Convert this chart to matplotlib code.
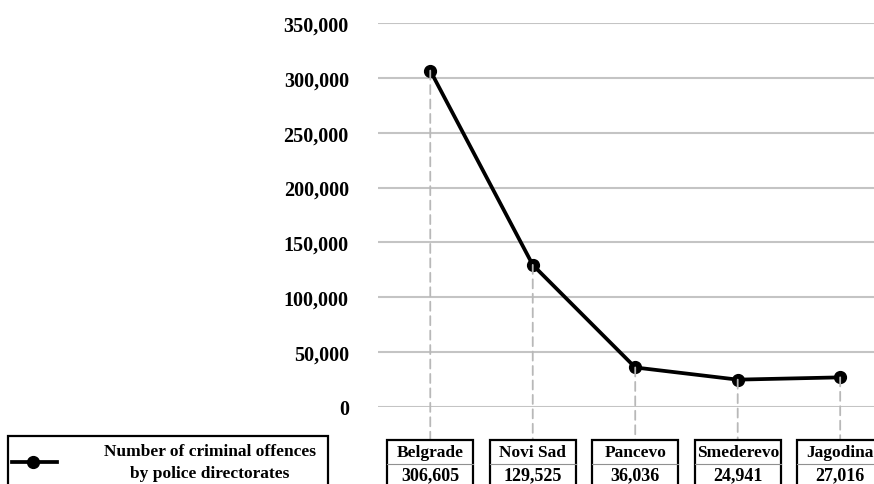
import matplotlib.pyplot as plt
import matplotlib.transforms as mtransforms
from matplotlib.patches import Rectangle, ConnectionPatch
from matplotlib.lines import Line2D

plt.rcParams['font.family'] = ['Liberation Serif', 'DejaVu Serif']
plt.rcParams['font.weight'] = 'bold'

# data
cities = ['Belgrade', 'Novi Sad', 'Pancevo', 'Smederevo', 'Jagodina']
offences = [306605, 129525, 36036, 24941, 27016]
yticks = [0, 50000, 100000, 150000, 200000, 250000, 300000, 350000]
legend_label = 'Number of criminal offences\nby police directorates'

W, H = 874, 485
fig = plt.figure(figsize=(W / 100, H / 100), dpi=100)
ax = fig.add_axes([378 / W, 1 - 408 / H, 1 - 378 / W, (408 - 24) / H])

x = list(range(len(cities)))
ax.plot(x, offences, color='black', lw=2.7, marker='o', ms=8.5, zorder=5, clip_on=False)

ax.set_ylim(0, 350000)
ax.set_xlim(-0.51, 4.33)
ax.set_yticks(yticks)
ax.set_yticklabels([f'{t:,}' for t in yticks], fontsize=14.5, fontweight='bold')
ax.tick_params(axis='y', length=0, pad=21)
ax.set_xticks([])
ax.grid(axis='y', color='#c4c4c4', lw=1.5)
ax.set_axisbelow(True)
for s in ax.spines.values():
    s.set_visible(False)

# boxes under each city (x in data, y in figure fraction)
blend = mtransforms.blended_transform_factory(ax.transData, fig.transFigure)
box_top = 1 - 441 / H
box_mid = 1 - 465 / H
bw = 0.84
for i, (c, v) in enumerate(zip(cities, offences)):
    con = ConnectionPatch(xyA=(i, v), coordsA=ax.transData,
                          xyB=(i, box_top), coordsB=blend,
                          color='#b8b8b8', lw=1.3, ls=(0, (5, 3)), zorder=1)
    fig.add_artist(con)
    r = Rectangle((i - bw / 2, box_top - 0.2), bw, 0.2, transform=blend,
                  fill=False, ec='black', lw=1.6, clip_on=False)
    fig.add_artist(r)
    fig.add_artist(Line2D([i - bw / 2, i + bw / 2], [box_mid, box_mid],
                          transform=blend, color='#909090', lw=0.8))
    fig.text(i, 1 - 453 / H, c, transform=blend, ha='center', va='center',
             fontsize=12.5, fontweight='bold')
    fig.text(i, 1 - 476 / H, f'{v:,}', transform=blend, ha='center', va='center',
             fontsize=13, fontweight='bold')

# legend box
fig.add_artist(Rectangle((8 / W, 1 - 500 / H), 320 / W, 63 / H,
                         transform=fig.transFigure, fill=False, ec='black', lw=1.6))
fig.add_artist(Line2D([12 / W, 57 / W], [1 - 463 / H] * 2, transform=fig.transFigure,
                      color='black', lw=2.7))
fig.add_artist(Line2D([33 / W], [1 - 463 / H], transform=fig.transFigure,
                      color='black', marker='o', ms=8.5))
fig.text(210 / W, 1 - 463 / H, legend_label, ha='center', va='center',
         fontsize=12.5, fontweight='bold', linespacing=1.55)

fig.savefig('out.png', dpi=100)
